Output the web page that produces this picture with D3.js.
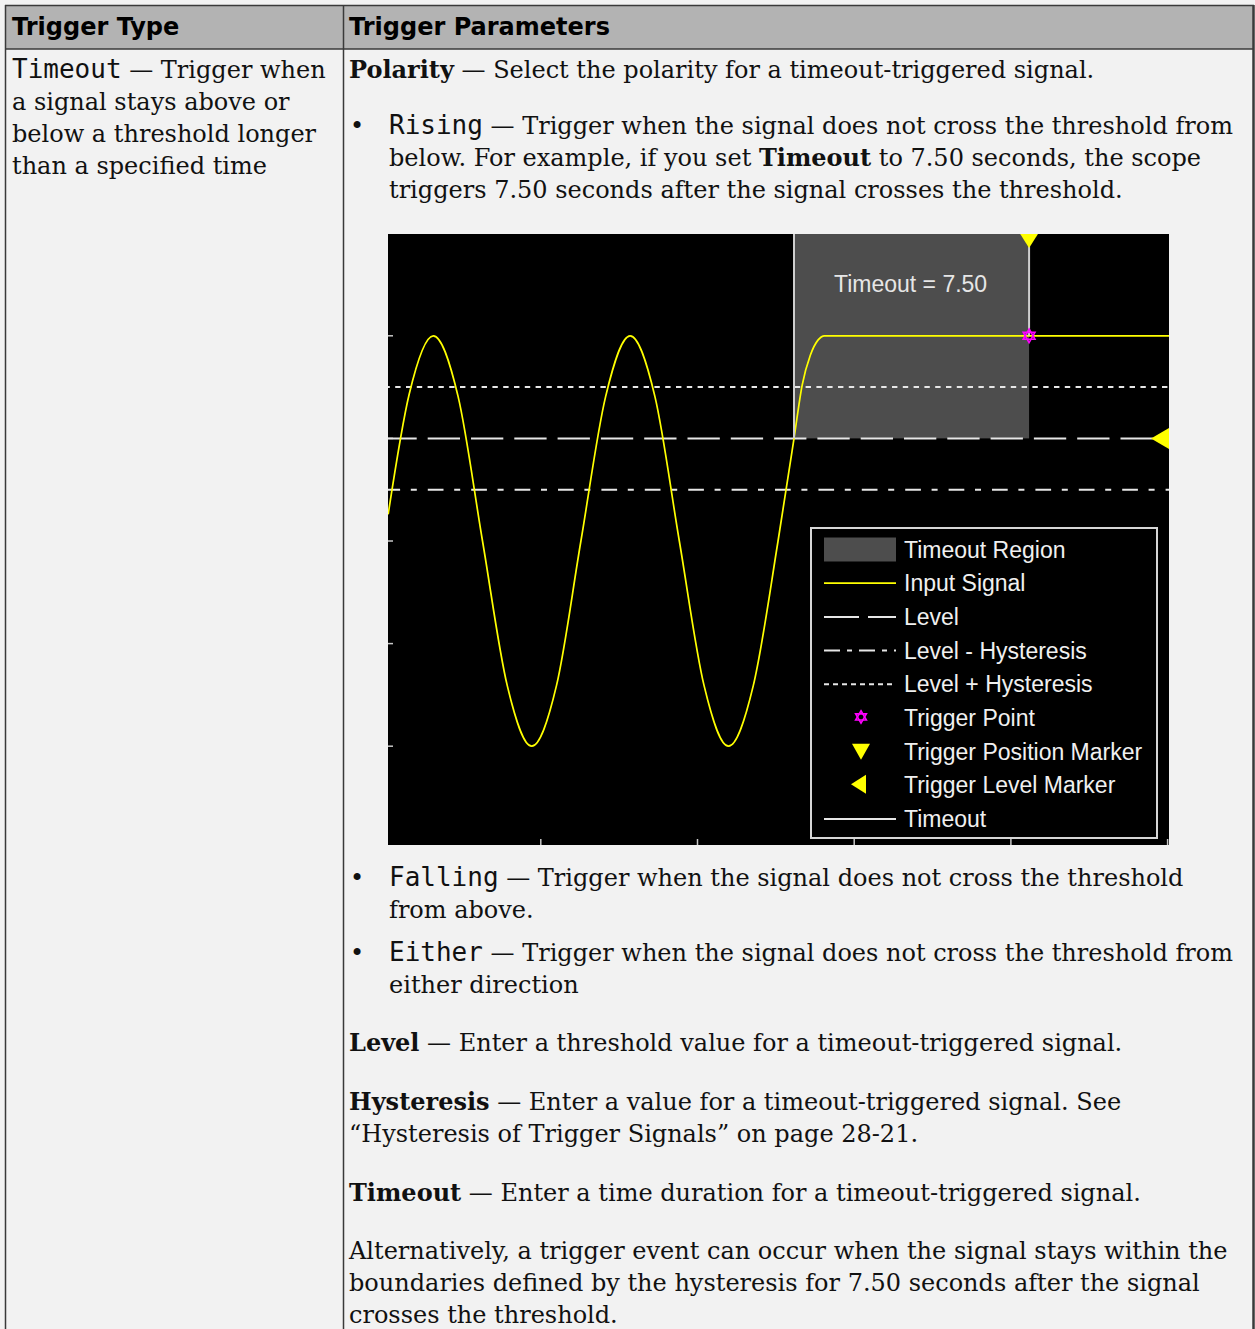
<!DOCTYPE html>
<html>
<head>
<meta charset="utf-8">
<script src="https://cdn.jsdelivr.net/npm/d3@7"></script>
<style>
  html, body { margin: 0; padding: 0; background: #f2f2f2; }
  svg { display: block; }
</style>
</head>
<body>
<script>
// ---------------- DATA ----------------
const headers = ["Trigger Type", "Trigger Parameters"];

// Left column text (runs: [text, style]) r=serif, b=bold serif, m=mono
const leftLines = [
  [["Timeout", "m"], [" — Trigger when", "r"]],
  [["a signal stays above or", "r"]],
  [["below a threshold longer", "r"]],
  [["than a specified time", "r"]]
];

const rightLinesTop = [
  { bullet: false, runs: [["Polarity", "b"], [" — Select the polarity for a timeout-triggered signal.", "r"]] },
  { bullet: true,  runs: [["Rising", "m"], [" — Trigger when the signal does not cross the threshold from", "r"]] },
  { bullet: false, indent: true, runs: [["below. For example, if you set ", "r"], ["Timeout", "b"], [" to 7.50 seconds, the scope", "r"]] },
  { bullet: false, indent: true, runs: [["triggers 7.50 seconds after the signal crosses the threshold.", "r"]] }
];
const rightLinesBottom = [
  { bullet: true,  runs: [["Falling", "m"], [" — Trigger when the signal does not cross the threshold", "r"]] },
  { bullet: false, indent: true, runs: [["from above.", "r"]] },
  { bullet: true,  runs: [["Either", "m"], [" — Trigger when the signal does not cross the threshold from", "r"]] },
  { bullet: false, indent: true, runs: [["either direction", "r"]] },
  { bullet: false, runs: [["Level", "b"], [" — Enter a threshold value for a timeout-triggered signal.", "r"]] },
  { bullet: false, runs: [["Hysteresis", "b"], [" — Enter a value for a timeout-triggered signal. See", "r"]] },
  { bullet: false, runs: [["“Hysteresis of Trigger Signals” on page 28-21.", "r"]] },
  { bullet: false, runs: [["Timeout", "b"], [" — Enter a time duration for a timeout-triggered signal.", "r"]] },
  { bullet: false, runs: [["Alternatively, a trigger event can occur when the signal stays within the", "r"]] },
  { bullet: false, runs: [["boundaries defined by the hysteresis for 7.50 seconds after the signal", "r"]] },
  { bullet: false, runs: [["crosses the threshold.", "r"]] }
];
const rightTopBaselines = [78, 134, 166, 198];
const rightBottomBaselines = [886, 918, 961, 993, 1051, 1110, 1142, 1201, 1259, 1291, 1323];

// Chart data
const signalT = [0.13, 0.8, 1.57, 2.36, 3.14, 3.93, 4.71, 5.5, 6.28, 7.07, 7.85, 8.64, 9.42,
                 10.21, 10.99, 11.78, 12.57, 13.08, 13.34, 13.6, 13.85, 14.05, 25.1];
const signalV = [0.26, 1.43, 2.0, 1.41, 0, -1.41, -2.0, -1.41, 0, 1.41, 2.0, 1.41, 0,
                 -1.41, -2.0, -1.41, 0, 1.0, 1.52, 1.81, 1.96, 2.0, 2.0];
const levelValue = 1.0;
const hysteresis = 0.5;
const timeoutStart = 13.08;
const timeoutValue = 7.5;
const triggerValue = 2.0;
const xTicks = [5, 10, 15, 20, 25];
const yTicks = [-2, -1, 0, 1, 2];
const timeoutLabel = "Timeout = 7.50";
const legendLabels = ["Timeout Region", "Input Signal", "Level", "Level - Hysteresis",
  "Level + Hysteresis", "Trigger Point", "Trigger Position Marker", "Trigger Level Marker", "Timeout"];
const legendKinds = ["region", "signal", "level", "levelMinus", "levelPlus", "point", "posMarker", "levelMarker", "timeout"];

// ---------------- STYLES ----------------
const W = 1255, H = 1329;
const SERIF = "'DejaVu Serif', serif";
const SANS = "'DejaVu Sans', sans-serif";
const MONO = "'DejaVu Sans Mono', monospace";
const CHART_FONT = "'Liberation Sans', Arial, sans-serif";
const fontOf = { r: SERIF, b: SERIF, m: MONO };
const weightOf = { r: "normal", b: "bold", m: "normal" };
const sizeOf = { r: 24, b: 24, m: 26 };
const borderColor = "#3a3a3a";

const svg = d3.select("body").append("svg").attr("width", W).attr("height", H);
svg.append("rect").attr("width", W).attr("height", H).attr("fill", "#f2f2f2");

// ---------------- TABLE ----------------
svg.append("rect").attr("x", 5).attr("y", 5).attr("width", 1248).attr("height", 44).attr("fill", "#b3b3b3");
const tbl = svg.append("g").attr("stroke", borderColor).attr("stroke-width", 1.5);
tbl.append("line").attr("x1", 5).attr("x2", 1254).attr("y1", 5.5).attr("y2", 5.5);
tbl.append("line").attr("x1", 5).attr("x2", 1254).attr("y1", 49).attr("y2", 49);
tbl.append("line").attr("x1", 5.5).attr("x2", 5.5).attr("y1", 5).attr("y2", H);
tbl.append("line").attr("x1", 343.5).attr("x2", 343.5).attr("y1", 5).attr("y2", H);
tbl.append("line").attr("x1", 1253.5).attr("x2", 1253.5).attr("y1", 5).attr("y2", H).attr("stroke-width", 2.5);

svg.selectAll("text.hdr").data(headers).join("text").attr("class", "hdr")
  .attr("x", (d, i) => i === 0 ? 12 : 349).attr("y", 35)
  .attr("font-family", SANS).attr("font-weight", "bold").attr("font-size", 24)
  .attr("fill", "#000").text(d => d);

function drawLine(x, y, runs) {
  const t = svg.append("text").attr("x", x).attr("y", y).attr("fill", "#111")
    .attr("xml:space", "preserve").style("white-space", "pre");
  runs.forEach(([txt, st]) => {
    t.append("tspan").attr("font-family", fontOf[st]).attr("font-weight", weightOf[st])
      .attr("font-size", sizeOf[st]).text(txt);
  });
}
leftLines.forEach((runs, i) => drawLine(12, 78 + i * 32, runs));
function drawRight(lines, baselines) {
  lines.forEach((ln, i) => {
    const y = baselines[i];
    if (ln.bullet) {
      svg.append("text").attr("x", 350).attr("y", y).attr("font-family", SERIF)
        .attr("font-size", 24).attr("fill", "#111").text("•");
    }
    drawLine(ln.bullet || ln.indent ? 389 : 349, y, ln.runs);
  });
}
drawRight(rightLinesTop, rightTopBaselines);
drawRight(rightLinesBottom, rightBottomBaselines);

// ---------------- CHART ----------------
const plot = { left: 388, right: 1169, top: 234, bottom: 845 };
const x = d3.scaleLinear().domain([0, 25]).range([384.1, 1167.6]);
const y = d3.scaleLinear().domain([-3, 3]).range([848.8, 233.2]);

const defs = svg.append("defs");
defs.append("clipPath").attr("id", "plotclip").append("rect")
  .attr("x", plot.left).attr("y", plot.top).attr("width", plot.right - plot.left).attr("height", plot.bottom - plot.top);

const g = svg.append("g").attr("clip-path", "url(#plotclip)");
g.append("rect").attr("x", plot.left).attr("y", plot.top)
  .attr("width", plot.right - plot.left).attr("height", plot.bottom - plot.top).attr("fill", "#000");

// timeout region
g.append("rect").attr("x", x(timeoutStart)).attr("y", plot.top)
  .attr("width", x(timeoutStart + timeoutValue) - x(timeoutStart))
  .attr("height", y(levelValue) - plot.top).attr("fill", "#4d4d4d");

// ticks
const tickColor = "#c8c8c8";
g.selectAll("line.yt").data(yTicks).join("line").attr("class", "yt")
  .attr("x1", plot.left).attr("x2", plot.left + 5).attr("y1", d => y(d)).attr("y2", d => y(d))
  .attr("stroke", tickColor).attr("stroke-width", 1.5);
g.selectAll("line.xt").data(xTicks).join("line").attr("class", "xt")
  .attr("x1", d => x(d)).attr("x2", d => x(d)).attr("y1", plot.bottom).attr("y2", plot.bottom - 6)
  .attr("stroke", tickColor).attr("stroke-width", 1.5);

// level lines
const levelStyles = [
  { v: levelValue + hysteresis, dash: "5.4,5.4", x2: plot.right },
  { v: levelValue, dash: "32.3,11", x2: plot.right - 12 },
  { v: levelValue - hysteresis, dash: "15.7,10.7,6,11", x2: plot.right }
];
g.selectAll("line.lvl").data(levelStyles).join("line").attr("class", "lvl")
  .attr("x1", plot.left).attr("x2", d => d.x2).attr("y1", d => y(d.v)).attr("y2", d => y(d.v))
  .attr("stroke", "#e6e6e6").attr("stroke-width", 2).attr("stroke-dasharray", d => d.dash)
  .attr("stroke-dashoffset", 3.6);

// timeout label
g.append("text").attr("x", (x(timeoutStart) + x(timeoutStart + timeoutValue)) / 2 - 1).attr("y", 292)
  .attr("text-anchor", "middle").attr("font-family", CHART_FONT).attr("font-size", 23)
  .attr("fill", "#e6e6e6").text(timeoutLabel);

// signal
const pts = signalT.map((t, i) => [t, signalV[i]]);
g.append("path").datum(pts)
  .attr("d", d3.line().x(d => x(d[0])).y(d => y(d[1])).curve(d3.curveMonotoneX))
  .attr("fill", "none").attr("stroke", "#ffff00").attr("stroke-width", 1.7);

// timeout lines
g.append("line").attr("x1", x(timeoutStart)).attr("x2", x(timeoutStart))
  .attr("y1", plot.top).attr("y2", y(levelValue)).attr("stroke", "#cfcfcf").attr("stroke-width", 2);
g.append("line").attr("x1", x(timeoutStart + timeoutValue)).attr("x2", x(timeoutStart + timeoutValue))
  .attr("y1", plot.top).attr("y2", y(triggerValue)).attr("stroke", "#cfcfcf").attr("stroke-width", 2);

// marker shapes
function hexagram(gsel, cx, cy, s) {
  const up = d3.symbol(d3.symbolTriangle, s)();
  gsel.append("path").attr("d", up).attr("transform", `translate(${cx},${cy})`)
    .attr("fill", "none").attr("stroke", "#ff00ff").attr("stroke-width", 1.6);
  gsel.append("path").attr("d", up).attr("transform", `translate(${cx},${cy}) rotate(180)`)
    .attr("fill", "none").attr("stroke", "#ff00ff").attr("stroke-width", 1.6);
}
function downTri(gsel, cx, top, w, h) {
  gsel.append("polygon").attr("points", [[cx - w / 2, top], [cx + w / 2, top], [cx, top + h]].map(p => p.join(",")).join(" "))
    .attr("fill", "#ffff00");
}
function leftTri(gsel, right, cy, w, h) {
  gsel.append("polygon").attr("points", [[right, cy - h / 2], [right, cy + h / 2], [right - w, cy]].map(p => p.join(",")).join(" "))
    .attr("fill", "#ffff00");
}
hexagram(g, x(timeoutStart + timeoutValue), y(triggerValue), 60);
downTri(g, x(timeoutStart + timeoutValue), plot.top - 1, 19, 15);
leftTri(g, plot.right, y(levelValue), 18, 21);

// legend
const lg = svg.append("g");
lg.append("rect").attr("x", 811).attr("y", 528).attr("width", 346).attr("height", 310)
  .attr("fill", "#000").attr("stroke", "#d6d6d6").attr("stroke-width", 2);
const rowY = d3.scaleLinear().domain([0, 8]).range([549.5, 819]);
legendKinds.forEach((k, i) => {
  const cy = rowY(i);
  const x1 = 824, x2 = 896, mid = 861;
  if (k === "region") lg.append("rect").attr("x", x1).attr("y", cy - 12).attr("width", x2 - x1).attr("height", 24).attr("fill", "#4d4d4d");
  else if (k === "signal") lg.append("line").attr("x1", x1).attr("x2", x2).attr("y1", cy).attr("y2", cy).attr("stroke", "#ffff00").attr("stroke-width", 1.7);
  else if (k === "level") lg.append("line").attr("x1", x1).attr("x2", x2).attr("y1", cy).attr("y2", cy).attr("stroke", "#e6e6e6").attr("stroke-width", 2).attr("stroke-dasharray", "35,9");
  else if (k === "levelMinus") lg.append("line").attr("x1", x1).attr("x2", x2).attr("y1", cy).attr("y2", cy).attr("stroke", "#e6e6e6").attr("stroke-width", 2).attr("stroke-dasharray", "16,7,5,7");
  else if (k === "levelPlus") lg.append("line").attr("x1", x1).attr("x2", x2).attr("y1", cy).attr("y2", cy).attr("stroke", "#e6e6e6").attr("stroke-width", 2).attr("stroke-dasharray", "5,4");
  else if (k === "point") hexagram(lg, mid, cy - 1, 50);
  else if (k === "posMarker") downTri(lg, mid, cy - 8, 18, 16);
  else if (k === "levelMarker") leftTri(lg, 866, cy - 1, 15, 19);
  else if (k === "timeout") lg.append("line").attr("x1", x1).attr("x2", x2).attr("y1", cy).attr("y2", cy).attr("stroke", "#e6e6e6").attr("stroke-width", 2);
  lg.append("text").attr("x", 904).attr("y", cy + 8).attr("font-family", CHART_FONT).attr("font-size", 23)
    .attr("fill", "#f0f0f0").text(legendLabels[i]);
});
</script>
</body>
</html>
